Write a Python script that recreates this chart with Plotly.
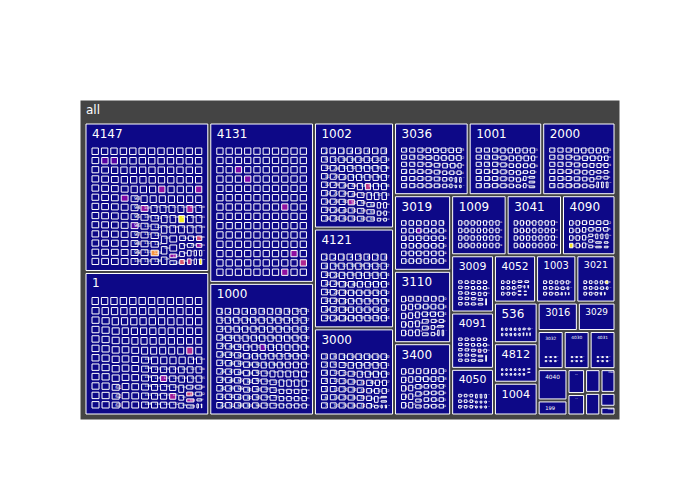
import plotly.graph_objects as go
from plotly.colors import sample_colorscale

# Parent categories (stores), largest first
stores = ["4147", "1", "4131", "1000", "1002", "4121", "3000", "3036", "1001", "2000",
          "3019", "3110", "3400", "1009", "3041", "4090", "3009", "4091", "4050", "4052",
          "1003", "3021", "536", "4812", "1004", "3016", "3029", "3032", "4030", "4031",
          "4040", "199", "4020", "4140", "3010", "4060", "2001", "3030", "4150"]

# number of regular-size items in each store and their typical value
item_count = [141, 60, 140, 80, 66, 40, 45, 38, 31, 30,
              36, 26, 20, 28, 28, 18, 24, 24, 12, 12,
              12, 12, 12, 12, 10, 9, 8, 6, 6, 6,
              5, 3, 2, 2, 2, 2, 2, 2, 2]
item_value = [1.11, 1.19, 1.08, 0.99, 1.1, 1.17, 1.17, 1.06, 1.07, 1.07,
              1.08, 1.17, 1.18, 1.072, 1.07, 1.13, 0.92, 0.905, 1.1, 1.1,
              1.18, 1.14, 1.1, 1.07, 1.29, 1.145, 1.206, 1.49, 1.485, 1.48,
              1.68, 1.35, 1.975, 1.7, 1.65, 1.6, 1.55, 0.95, 0.6]

# smaller items of each store (read from the bottom-right corners)
extra_items = [
    [0.82, 0.82, 0.82, 0.78, 0.78, 0.78, 0.76, 0.76, 0.76, 0.72, 0.72, 0.72, 0.57, 0.57, 0.57, 0.57],
    [1.12] * 52 + [1.01] * 24 + [0.78] * 8 + [0.5, 0.4, 0.3],
    [],
    [0.93] * 40 + [0.72] * 12,
    [0.8, 0.75, 0.7, 0.6, 0.55, 0.5],
    [1.05] * 24,
    [0.95] * 8 + [0.6, 0.6, 0.6, 0.4, 0.4],
    [0.85] * 6 + [0.65] * 4 + [0.45, 0.45],
    [0.9] * 10 + [0.75] * 8,
    [0.9] * 11 + [0.75] * 8,
    [],
    [1.0, 0.96, 0.91, 0.86, 0.8, 0.8, 0.75, 0.75],
    [0.97] * 14,
    [],
    [],
    [0.9] * 8 + [0.7, 0.7],
    [],
    [],
    [0.8] * 6,
    [0.75, 0.75, 0.75, 0.7, 0.65, 0.65, 0.5],
    [0.9, 0.8, 0.7, 0.6],
    [0.9, 0.8, 0.7, 0.6],
    [1.0, 0.9, 0.9],
    [1.0, 0.9, 0.8],
    [], [], [], [], [], [], [], [], [], [], [], [], [], [], [],
]

# highlighted (non-navy) items: store, item position, colour value
hl_store = ["4147"] * 16 + ["4131"] * 6 + ["1"] * 5 + ["1002", "1002", "3019", "4090", "3021", "4091", "3000", "1000"]
hl_index = [128, 124, 87, 91, 76, 107, 118, 95, 24, 25, 141, 145, 148, 152, 156, 150,
            22, 33, 81, 135, 132, 137,
            100, 130, 140, 142, 120,
            53, 49, 12, 3, 8, 19, 57, 70]
hl_value = [0.97, 0.75, 0.3, 0.3, 0.25, 0.3, 0.35, 0.15, 0.15, 0.15, 0.3, 0.5, 0.55, 0.45, 0.95, 0.3,
            0.25, 0.25, 0.3, 0.3, 0.3, 0.4,
            0.4, 0.35, 0.5, 0.35, 0.3,
            0.45, 0.35, 0.2, 0.95, 0.95, 0.4, 0.45, 0.2]

ROOT = "all"
ids, labels, parents, values, cvals = [ROOT], [ROOT], [""], [0], [None]
for si, s in enumerate(stores):
    ids.append(s); labels.append(s); parents.append(ROOT); values.append(0); cvals.append(0.0)
    vals = [item_value[si]] * item_count[si] + extra_items[si]
    for k, v in enumerate(vals):
        ids.append(f"{s}/{k}")
        labels.append(f"{k + 1}")
        parents.append(s)
        values.append(v)
        cvals.append(0.0)

pos = {i: n for n, i in enumerate(ids)}
for s, k, c in zip(hl_store, hl_index, hl_value):
    key = f"{s}/{k}"
    if key in pos:
        cvals[pos[key]] = c

colors = ["#444"] + sample_colorscale("Plasma", [c for c in cvals[1:]])

fig = go.Figure(go.Treemap(
    ids=ids, labels=labels, parents=parents, values=values,
    branchvalues="remainder",
    marker=dict(colors=colors),
    textinfo="label",
    textfont=dict(color="white"),
))
fig.update_layout(width=700, height=500,
                  font=dict(family="DejaVu Sans, Verdana, sans-serif", size=12))
fig.write_html("out.html")
